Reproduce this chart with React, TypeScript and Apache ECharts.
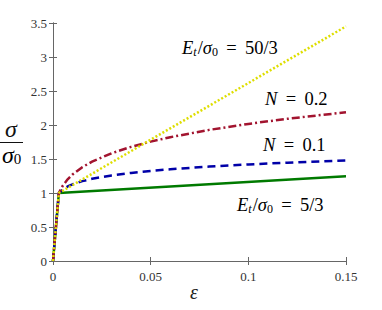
import React, { useEffect, useRef } from "react";
import * as echarts from "echarts";

const strainPts = [0, 0.003, 0.005, 0.0075, 0.01, 0.015, 0.02, 0.03, 0.04, 0.05, 0.06, 0.08, 0.1, 0.12, 0.15];
const stressN02 = [0, 1, 1.1076, 1.2011, 1.2723, 1.3797, 1.4614, 1.5849, 1.6788, 1.7554, 1.8206, 1.9284, 2.0163, 2.0913, 2.1867];
const stressN01 = [0, 1, 1.0524, 1.0959, 1.1279, 1.1746, 1.2089, 1.2589, 1.2956, 1.3249, 1.3493, 1.3886, 1.42, 1.4461, 1.4787];
const linStrain = [0, 0.003, 0.15];
const stressEt5 = [0, 1, 1.245];
const stressEt50 = [0, 1, 3.45];
const xTicks = [0, 0.05, 0.1, 0.15];
const yTicks = [0, 0.5, 1, 1.5, 2, 2.5, 3, 3.5];

const pair = (xs: number[], ys: number[]) => xs.map((x, i) => [x, ys[i]]);

const SERIF = "Liberation Serif";

export default function App() {
  const ref = useRef<HTMLDivElement>(null);
  useEffect(() => {
    document.body.style.margin = "0";
    const chart = echarts.init(ref.current!, null, { renderer: "svg" });
    const axisCommon = {
      type: "value" as const,
      axisLine: { show: true, lineStyle: { color: "#666", width: 1 } },
      axisTick: { show: true, inside: true, length: 4, lineStyle: { color: "#666" } },
      splitLine: { show: false },
    };
    const mathRich = {
      i: { fontFamily: SERIF, fontStyle: "italic" as const, fontSize: 18.5, color: "#111" },
      s: { fontFamily: SERIF, fontStyle: "italic" as const, fontSize: 12, color: "#111", padding: [8, 1, 0, 0] },
      n: { fontFamily: SERIF, fontSize: 12, color: "#111", padding: [8, 0, 0, 0] },
      r: { fontFamily: SERIF, fontSize: 18.5, color: "#111" },
    };
    chart.setOption({
      animation: false,
      textStyle: { fontFamily: SERIF },
      grid: { left: 53, right: 36, top: 23, bottom: 49 },
      xAxis: [
        {
          ...axisCommon,
          min: 0,
          max: 0.15,
          interval: 0.05,
          axisLabel: {
            fontFamily: SERIF,
            fontSize: 13,
            color: "#333",
            margin: 9,
            formatter: (v: number) => String(xTicks.find((t) => Math.abs(t - v) < 1e-9) ?? v),
          },
        },
        {
          ...axisCommon,
          position: "top",
          min: 0,
          max: 0.15,
          interval: 0.05,
          axisLabel: { show: false },
        },
      ],
      yAxis: [
        {
          ...axisCommon,
          min: 0,
          max: 3.5,
          interval: 0.5,
          axisLabel: {
            fontFamily: SERIF,
            fontSize: 13,
            color: "#333",
            margin: 6,
            formatter: (v: number) => String(yTicks.find((t) => Math.abs(t - v) < 1e-9) ?? v),
          },
        },
        {
          ...axisCommon,
          position: "right",
          min: 0,
          max: 3.5,
          interval: 0.5,
          axisLabel: { show: false },
        },
      ],
      series: [
        {
          type: "line",
          data: pair(linStrain, stressEt5),
          symbol: "none",
          lineStyle: { color: "#007a00", width: 2.5, type: "solid" },
        },
        {
          type: "line",
          data: pair(strainPts, stressN01),
          symbol: "none",
          lineStyle: { color: "#0000a8", width: 2.5, type: [8, 5] },
        },
        {
          type: "line",
          data: pair(strainPts, stressN02),
          symbol: "none",
          lineStyle: { color: "#a2142f", width: 2.5, type: [8, 3, 2, 3] },
        },
        {
          type: "line",
          data: pair(linStrain, stressEt50),
          symbol: "none",
          lineStyle: { color: "#dede00", width: 2.5, type: [2, 2] },
        },
      ],
      graphic: [
        {
          type: "text",
          left: 182,
          top: 38,
          style: {
            text: "{i|E}{s|t}{r|/}{i|σ}{n|0}{r| \u2009=\u2009 50/3}",
            rich: mathRich,
          },
        },
        {
          type: "text",
          left: 265,
          top: 89,
          style: { text: "{i|N}{r| \u2009=\u2009 0.2}", rich: mathRich },
        },
        {
          type: "text",
          left: 263,
          top: 135,
          style: { text: "{i|N}{r| \u2009=\u2009 0.1}", rich: mathRich },
        },
        {
          type: "text",
          left: 237,
          top: 195,
          style: {
            text: "{i|E}{s|t}{r|/}{i|σ}{n|0}{r| \u2009=\u2009 5/3}",
            rich: mathRich,
          },
        },
        {
          type: "text",
          left: 5,
          top: 117,
          style: { text: "σ", fontFamily: SERIF, fontStyle: "italic", fontSize: 24, fill: "#111" },
        },
        {
          type: "line",
          shape: { x1: 0, y1: 142.5, x2: 23, y2: 142.5 },
          style: { stroke: "#111", lineWidth: 1 },
        },
        {
          type: "text",
          left: 2,
          top: 143,
          style: {
            text: "{a|σ}{b|0}",
            rich: {
              a: { fontFamily: SERIF, fontStyle: "italic", fontSize: 24, color: "#111" },
              b: { fontFamily: SERIF, fontSize: 15, color: "#111", padding: [8, 0, 0, 0] },
            },
          },
        },
        {
          type: "text",
          left: 190,
          top: 282,
          style: { text: "ε", fontFamily: SERIF, fontStyle: "italic", fontSize: 20, fill: "#222" },
        },
      ],
    });
    return () => chart.dispose();
  }, []);
  return <div ref={ref} style={{ width: 382, height: 310 }} />;
}
